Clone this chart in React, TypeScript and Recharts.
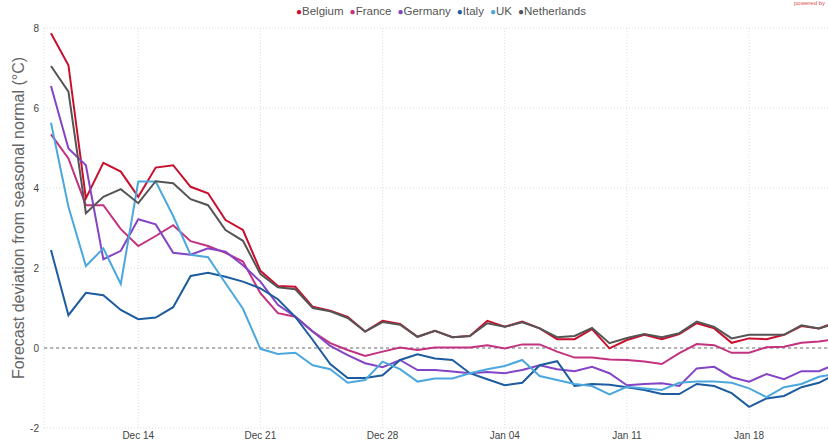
import { CartesianGrid, Legend, Line, LineChart, ReferenceLine, XAxis, YAxis } from 'recharts';

// daily forecasts, first point = Dec 09
const belgium = [7.87, 7.07, 3.74, 4.63, 4.41, 3.78, 4.51, 4.57, 4.03, 3.87, 3.2, 2.95, 1.93, 1.55, 1.53, 1.03, 0.93, 0.78, 0.41, 0.68, 0.6, 0.28, 0.43, 0.27, 0.3, 0.68, 0.53, 0.66, 0.49, 0.22, 0.22, 0.47, -0.01, 0.2, 0.33, 0.22, 0.35, 0.62, 0.49, 0.13, 0.24, 0.22, 0.33, 0.55, 0.49, 0.65];
const france = [5.34, 4.74, 3.57, 3.57, 2.97, 2.55, 2.8, 3.07, 2.67, 2.55, 2.38, 2.16, 1.37, 0.87, 0.78, 0.41, 0.12, -0.05, -0.2, -0.09, 0.01, -0.05, 0.01, 0.01, 0.01, 0.07, -0.01, 0.09, 0.09, -0.09, -0.24, -0.24, -0.29, -0.3, -0.34, -0.4, -0.13, 0.1, 0.07, -0.12, -0.12, 0.02, 0.03, 0.13, 0.16, 0.22];
const germany = [6.55, 4.99, 4.57, 2.22, 2.43, 3.22, 3.09, 2.38, 2.33, 2.49, 2.41, 2.07, 1.66, 1.08, 0.78, 0.41, 0.05, -0.18, -0.38, -0.48, -0.3, -0.55, -0.55, -0.59, -0.63, -0.6, -0.63, -0.55, -0.43, -0.53, -0.58, -0.47, -0.63, -0.93, -0.9, -0.88, -0.95, -0.51, -0.47, -0.73, -0.84, -0.65, -0.78, -0.58, -0.58, -0.4];
const italy = [2.45, 0.82, 1.38, 1.32, 0.95, 0.72, 0.76, 1.02, 1.8, 1.88, 1.78, 1.66, 1.49, 1.22, 0.78, 0.2, -0.4, -0.75, -0.75, -0.68, -0.3, -0.16, -0.26, -0.3, -0.63, -0.78, -0.93, -0.87, -0.43, -0.33, -0.95, -0.9, -0.92, -0.98, -1.05, -1.15, -1.15, -0.9, -0.95, -1.13, -1.47, -1.26, -1.2, -0.98, -0.87, -0.65];
const uk = [5.63, 3.53, 2.05, 2.49, 1.6, 4.16, 4.16, 3.3, 2.33, 2.27, 1.62, 0.98, -0.02, -0.15, -0.12, -0.43, -0.53, -0.87, -0.8, -0.34, -0.53, -0.84, -0.76, -0.76, -0.63, -0.53, -0.45, -0.3, -0.7, -0.8, -0.9, -0.95, -1.16, -0.97, -1.01, -1.05, -0.87, -0.84, -0.84, -0.87, -1.01, -1.23, -0.98, -0.9, -0.72, -0.65];
const netherlands = [7.05, 6.41, 3.37, 3.78, 3.97, 3.62, 4.17, 4.12, 3.72, 3.57, 2.95, 2.68, 1.85, 1.52, 1.47, 1.0, 0.92, 0.75, 0.41, 0.65, 0.58, 0.28, 0.43, 0.27, 0.3, 0.62, 0.53, 0.64, 0.49, 0.27, 0.3, 0.5, 0.12, 0.25, 0.35, 0.27, 0.37, 0.66, 0.53, 0.24, 0.33, 0.33, 0.33, 0.57, 0.49, 0.62];

const tickDays = [5, 12, 19, 26, 33, 40];
const tickLabels = ['Dec 14', 'Dec 21', 'Dec 28', 'Jan 04', 'Jan 11', 'Jan 18'];
const yTicks = [-2, 0, 2, 4, 6, 8];

const series = [
  { name: 'Belgium', values: belgium, color: '#c8102e' },
  { name: 'France', values: france, color: '#c2327f' },
  { name: 'Germany', values: germany, color: '#8444c6' },
  { name: 'Italy', values: italy, color: '#1d5c9e' },
  { name: 'UK', values: uk, color: '#4ca7dc' },
  { name: 'Netherlands', values: netherlands, color: '#555555' },
];

const rows = belgium.map((_, i) => {
  const row: { [key: string]: number } = { day: i };
  for (const s of series) row[s.name] = s.values[i];
  return row;
});

const font = 'Arial, "Liberation Sans", sans-serif';

const LegendRow = () => (
  <div style={{ height: 24, textAlign: 'center', fontFamily: font, fontSize: 11.5, lineHeight: '14px', color: '#555', paddingLeft: 8 }}>
    {series.map((s) => (
      <span key={s.name} style={{ marginRight: 6 }}>
        <span style={{ color: s.color, fontSize: 10 }}>●</span>{s.name}
      </span>
    ))}
  </div>
);

const AxisTitle = (props: any) => {
  const x = 18;
  const y = 218;
  return (
    <text x={x} y={y} transform={`rotate(-90, ${x}, ${y})`} textAnchor="middle" dominantBaseline="central"
      fontFamily={font} fontSize={16} fill="#666">
      Forecast deviation from seasonal normal (°C)
    </text>
  );
};

export default function App() {
  return (
    <div style={{ position: 'fixed', left: 0, top: 0, width: 828, height: 446, overflow: 'hidden', background: '#fff' }}>
      <div style={{ position: 'absolute', right: 3, top: 0, fontFamily: font, fontSize: 6, lineHeight: '7px', color: '#e05050' }}>powered by</div>
      <LineChart width={880} height={446} data={rows} margin={{ top: 4, right: 0, bottom: 0, left: 0 }}>
        <CartesianGrid stroke="#dcdcdc" strokeDasharray="1 2" />
        <XAxis
          dataKey="day"
          type="number"
          domain={[-0.4, 47.5]}
          ticks={tickDays}
          tickFormatter={(v: number) => tickLabels[tickDays.indexOf(v)]}
          axisLine={false}
          tickLine={false}
          tickSize={0}
          tickMargin={4}
          height={18}
          tick={{ fontSize: 10, fill: '#444', fontFamily: font }}
        />
        <YAxis
          type="number"
          domain={[-2, 8]}
          ticks={yTicks}
          axisLine={false}
          tickLine={false}
          tickSize={0}
          tickMargin={5}
          width={44}
          tick={{ fontSize: 10, fill: '#444', fontFamily: font }}
          label={{ content: AxisTitle }}
        />
        <Legend verticalAlign="top" content={LegendRow} />
        <ReferenceLine y={0} stroke="#b5b5b5" strokeWidth={2} strokeDasharray="3 3" />
        {series.map((s) => (
          <Line
            key={s.name}
            type="linear"
            dataKey={s.name}
            stroke={s.color}
            strokeWidth={2}
            dot={false}
            isAnimationActive={false}
          />
        ))}
      </LineChart>
    </div>
  );
}
